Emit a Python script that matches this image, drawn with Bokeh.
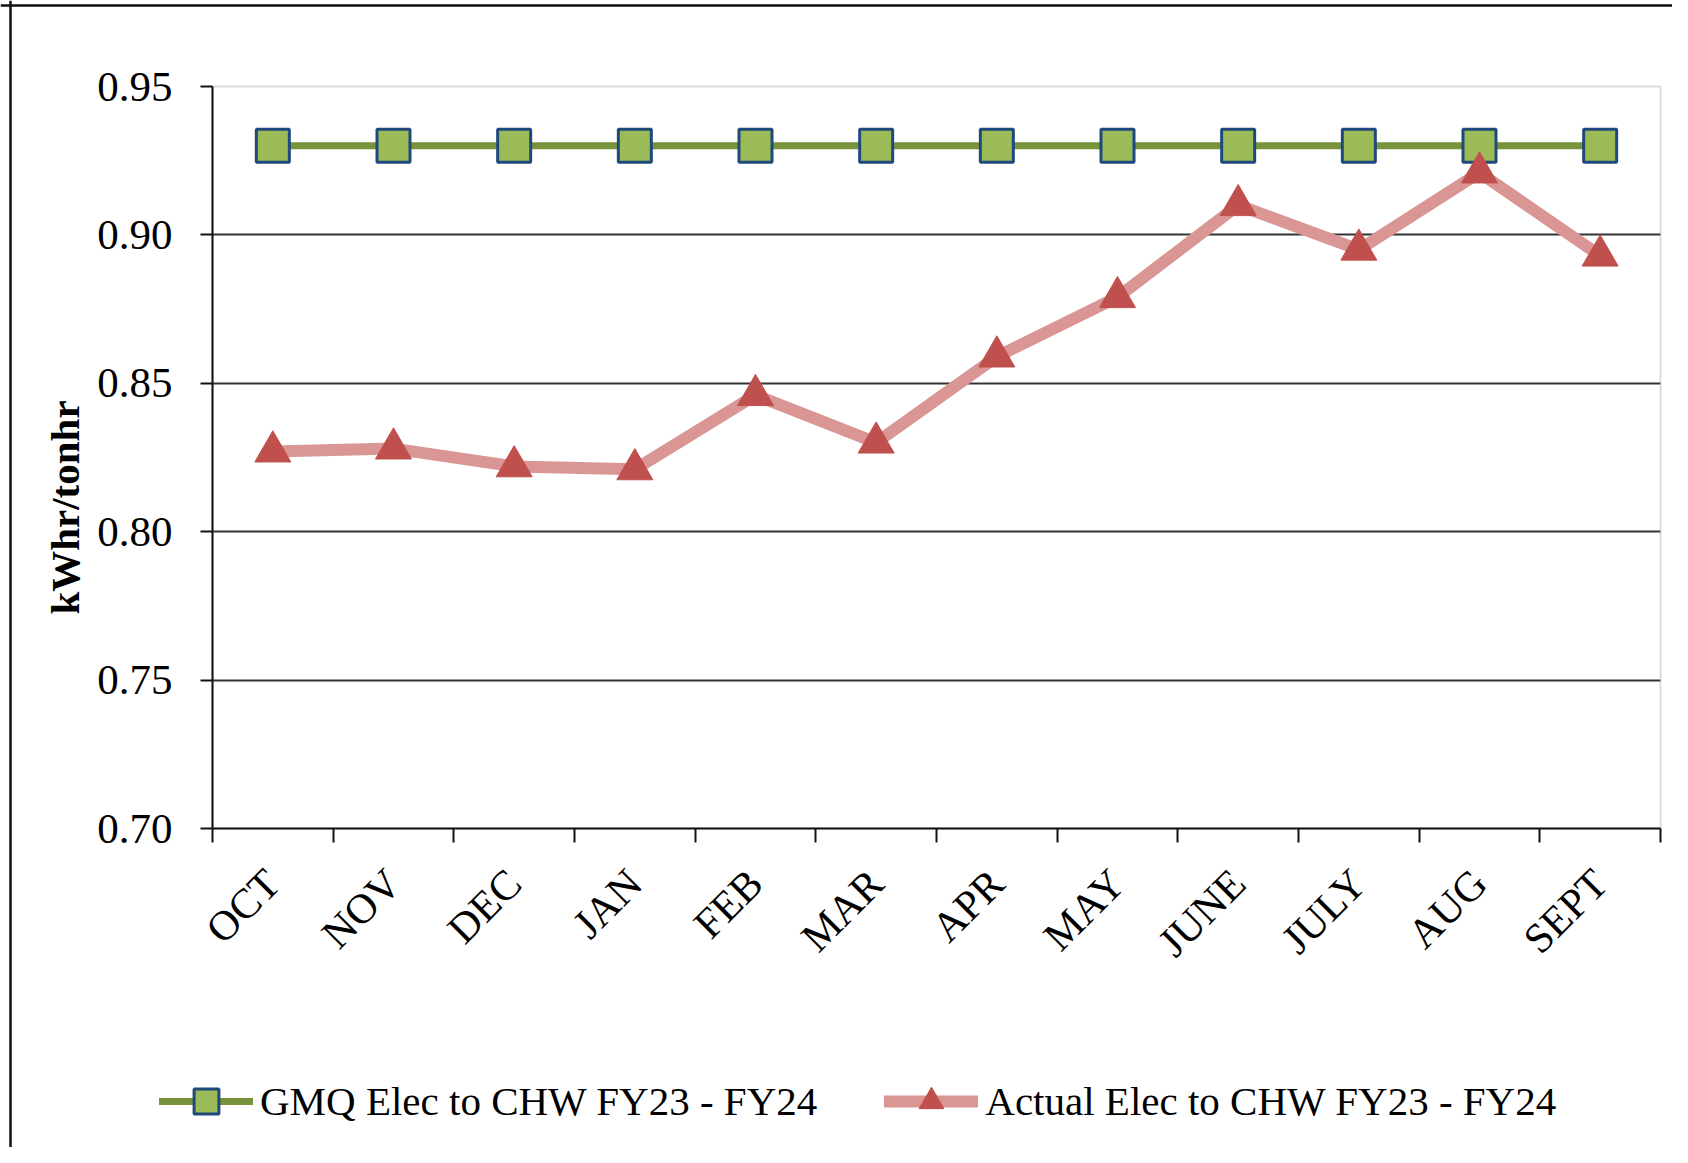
import math
from bokeh.plotting import figure
from bokeh.models import (Range1d, FixedTicker, NumeralTickFormatter, Legend,
                          LegendItem, Label, BoxAnnotation, Span)
from bokeh.embed import file_html
from bokeh.resources import INLINE

# ---- data ----
months = ["OCT", "NOV", "DEC", "JAN", "FEB", "MAR", "APR", "MAY",
          "JUNE", "JULY", "AUG", "SEPT"]
gmq = [0.93, 0.93, 0.93, 0.93, 0.93, 0.93, 0.93, 0.93, 0.93, 0.93, 0.93, 0.93]
actual = [0.827, 0.828, 0.822, 0.821, 0.846, 0.830, 0.859, 0.879,
          0.910, 0.895, 0.921, 0.893]
y_ticks = [0.70, 0.75, 0.80, 0.85, 0.90, 0.95]
grid_ticks = [0.75, 0.80, 0.85, 0.90]
gmq_label = "GMQ Elec to CHW FY23 - FY24"
actual_label = "Actual Elec to CHW FY23 - FY24"
y_label = "kWhr/tonhr"

FONT = "Liberation Serif"
xs = list(range(len(months)))

# ---- layout (canvas pixels) ----
W, H = 1672, 1147
PX_L, PX_R, PX_T, PX_B = 212, 1660, 86, 828
x0, x1 = -0.5, len(months) - 0.5
y0, y1 = y_ticks[0], y_ticks[-1]
kx = (x1 - x0) / (PX_R - PX_L)
ky = (y1 - y0) / (PX_B - PX_T)
x_range = Range1d(x0 - PX_L * kx, x1 + (W - PX_R) * kx)
y_range = Range1d(y0 - (H - PX_B) * ky, y1 + PX_T * ky)

p = figure(width=W, height=H, output_backend="svg", toolbar_location=None,
           x_range=x_range, y_range=y_range, min_border=0,
           background_fill_color="white", border_fill_color="white")
p.title.visible = False
p.outline_line_color = None

# plot area box (gray top/right edges)
p.add_layout(BoxAnnotation(left=x0, right=x1, bottom=y0, top=y1,
                           fill_alpha=0, line_color="#888888", line_width=2,
                           level="underlay"))

# x axis
xa = p.xaxis[0]
xa.fixed_location = y0
xa.bounds = (x0, x1)
xa.ticker = FixedTicker(ticks=xs, minor_ticks=[i - 0.5 for i in range(len(months) + 1)])
xa.major_label_overrides = {i: m for i, m in enumerate(months)}
xa.major_label_orientation = math.pi / 4
xa.major_tick_out = 0
xa.major_tick_in = 0
xa.minor_tick_out = 14
xa.minor_tick_in = 0
xa.minor_tick_line_color = "#111111"
xa.minor_tick_line_width = 2
xa.axis_line_color = "#111111"
xa.axis_line_width = 2
xa.major_label_text_font = FONT
xa.major_label_text_font_size = "42px"
xa.major_label_text_color = "black"
xa.major_label_standoff = 34

# y axis
ya = p.yaxis[0]
ya.fixed_location = x0
ya.bounds = (y0, y1)
ya.ticker = FixedTicker(ticks=y_ticks, minor_ticks=[])
ya.formatter = NumeralTickFormatter(format="0.00")
ya.major_tick_out = 12
ya.major_tick_in = 0
ya.major_tick_line_color = "#111111"
ya.major_tick_line_width = 2
ya.minor_tick_out = 0
ya.minor_tick_in = 0
ya.axis_line_color = "#111111"
ya.axis_line_width = 2
ya.major_label_text_font = FONT
ya.major_label_text_font_size = "43px"
ya.major_label_text_color = "black"
ya.major_label_standoff = 28

# grid
p.xgrid.visible = False
yg = p.ygrid[0]
yg.ticker = FixedTicker(ticks=grid_ticks, minor_ticks=[])
yg.grid_line_color = "#333333"
yg.grid_line_width = 2
if "cross_bounds" in yg.properties():
    yg.cross_bounds = (x0, x1)
else:
    yg.visible = False
    p.segment(x0=[x0] * len(grid_ticks), x1=[x1] * len(grid_ticks),
              y0=grid_ticks, y1=grid_ticks, line_color="#333333",
              line_width=2, level="underlay")

# series
g_line = p.line(xs, gmq, line_color="#77933C", line_width=7, line_cap="round")
g_pts = p.scatter(xs, gmq, marker="square", size=33, fill_color="#9BBB59",
                  line_color="#1F497D", line_width=3)
a_line = p.line(xs, actual, line_color="#D99694", line_width=12,
                line_cap="round", line_join="round")
a_pts = p.scatter(xs, actual, marker="triangle", size=36, fill_color="#C0504D",
                  line_color="#C0504D", line_width=1)

# y label
p.add_layout(Label(x=64, y=H - 507, x_units="screen", y_units="screen",
                   text=y_label, angle=math.pi / 2, text_align="center",
                   text_baseline="middle", text_font=FONT,
                   text_font_size="41px", text_font_style="bold",
                   text_color="black"))

# legend
leg = Legend(items=[LegendItem(label=gmq_label, renderers=[g_line, g_pts]),
                    LegendItem(label=actual_label, renderers=[a_line, a_pts])],
             location=(159, H - 1102 - 30), orientation="horizontal",
             glyph_width=94, glyph_height=62, label_standoff=7, spacing=67,
             padding=0, margin=0, border_line_alpha=0,
             background_fill_alpha=0, label_text_font=FONT,
             label_text_font_size="41px", label_text_color="black")
p.add_layout(leg)

# outer chart border (left and top edges; right/bottom lie outside the picture)
p.add_layout(Span(location=10, dimension="height", location_units="canvas",
                  line_color="#111111", line_width=2.5, level="overlay"))
p.add_layout(Span(location=5, dimension="width", location_units="canvas",
                  line_color="#111111", line_width=2.5, level="overlay"))

open("out.html", "w").write(file_html(p, INLINE))
